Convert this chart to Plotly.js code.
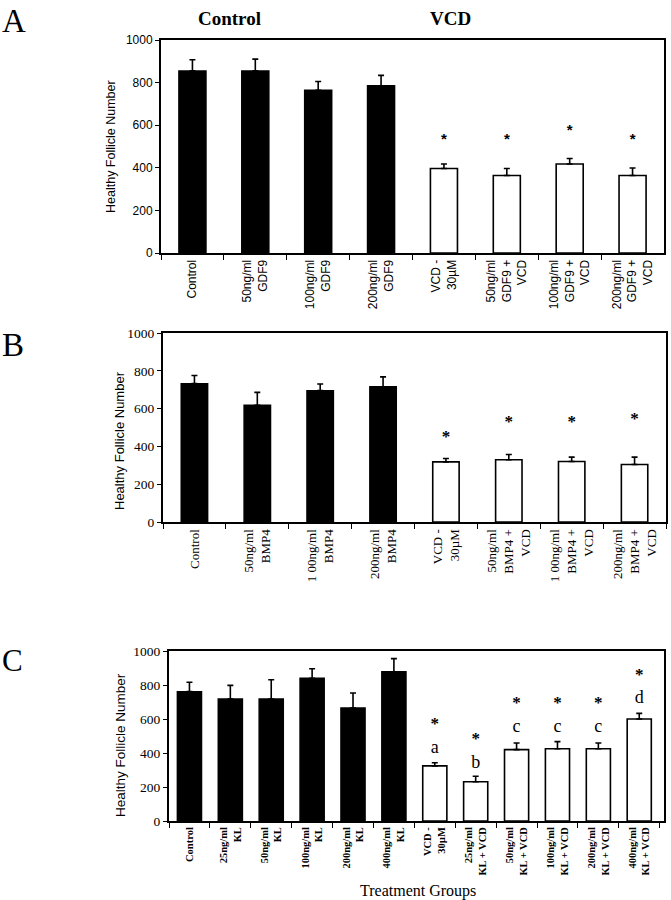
<!DOCTYPE html>
<html>
<head>
<meta charset="utf-8">
<script src="https://cdn.plot.ly/plotly-3.0.1.min.js"></script>
<style>html,body{margin:0;padding:0;background:#fff;}#chart{width:671px;height:900px;}</style>
</head>
<body>
<div id="chart"></div>
<script>
// ---------- Panel A (GDF9) ----------
const catsA = ['Control', '50ng/ml<br>GDF9', '100ng/ml<br>GDF9', '200ng/ml<br>GDF9', 'VCD -<br>30µM', '50ng/ml<br>GDF9 +<br>VCD', '100ng/ml<br>GDF9 +<br>VCD', '200ng/ml<br>GDF9 +<br>VCD'];
const ctrlA = [855, 855, 764, 785];
const ctrlAerr = [52, 55, 41, 49];
const vcdA = [397, 364, 418, 364];
const vcdAerr = [21, 33, 26, 35];
const starA = ['*', '*', '*', '*'];
const starAy = [529, 529, 570, 529];

// ---------- Panel B (BMP4) ----------
const catsB = ['Control', '50ng/ml<br>BMP4', '1 00ng/ml<br>BMP4', '200ng/ml<br>BMP4', 'VCD -<br>30µM', '50ng/ml<br>BMP4 +<br>VCD', '1 00ng/ml<br>BMP4 +<br>VCD', '200ng/ml<br>BMP4 +<br>VCD'];
const ctrlB = [732, 618, 695, 716];
const ctrlBerr = [43, 68, 35, 52];
const vcdB = [318, 329, 320, 304];
const vcdBerr = [18, 28, 23, 39];
const starB = ['*', '*', '*', '*'];
const starBy = [445, 525, 525, 543];

// ---------- Panel C (KL) ----------
const catsC = ['Control', '25ng/ml<br>KL', '50ng/ml<br>KL', '100ng/ml<br>KL', '200ng/ml<br>KL', '400ng/ml<br>KL', 'VCD -<br>30µM', '25ng/ml<br>KL + VCD', '50ng/ml<br>KL + VCD', '100ng/ml<br>KL + VCD', '200ng/ml<br>KL + VCD', '400ng/ml<br>KL + VCD'];
const ctrlC = [761, 718, 718, 839, 665, 878];
const ctrlCerr = [55, 80, 113, 57, 88, 77];
const vcdC = [324, 231, 420, 425, 425, 600];
const vcdCerr = [19, 32, 39, 42, 34, 33];
const starC = ['*', '*', '*', '*', '*', '*'];
const starCy = [565, 476, 690, 690, 690, 853];
const letterC = ['a', 'b', 'c', 'c', 'c', 'd'];
const letterCy = [427, 337, 551, 551, 551, 718];

const W = 671, H = 900;
const px = v => v / W;
const py = v => 1 - v / H;
const zeros = n => new Array(n).fill(0);

function barPair(cats, ctrl, ctrlErr, vcd, vcdErr, xa, ya, bw) {
  const nC = ctrl.length;
  const errStyle = (arr) => ({type: 'data', symmetric: false, array: arr, arrayminus: zeros(arr.length), color: '#000', thickness: 1.6, width: 3});
  return [
    {type: 'bar', x: cats.slice(0, nC), y: ctrl, width: bw, xaxis: xa, yaxis: ya, marker: {color: '#000', line: {color: '#000', width: 1.5}}, error_y: errStyle(ctrlErr), showlegend: false, hoverinfo: 'skip'},
    {type: 'bar', x: cats.slice(nC), y: vcd, width: bw, xaxis: xa, yaxis: ya, marker: {color: '#fff', line: {color: '#000', width: 1.6}}, error_y: errStyle(vcdErr), showlegend: false, hoverinfo: 'skip'}
  ];
}
function textTrace(x, y, t, xa, ya, font) {
  return {type: 'scatter', mode: 'text', x: x, y: y, text: t, xaxis: xa, yaxis: ya, textfont: font, textposition: 'middle center', showlegend: false, hoverinfo: 'skip', cliponaxis: false};
}

const starFont = {family: 'Liberation Sans, Arial, sans-serif', size: 15, color: '#000', weight: 'bold'};
const starSerif = {family: 'Liberation Serif, serif', size: 17, color: '#000', weight: 'bold'};
const data = [
  ...barPair(catsA, ctrlA, ctrlAerr, vcdA, vcdAerr, 'x', 'y', 0.43),
  textTrace(catsA.slice(4), starAy, starA, 'x', 'y', starFont),
  ...barPair(catsB, ctrlB, ctrlBerr, vcdB, vcdBerr, 'x2', 'y2', 0.42),
  textTrace(catsB.slice(4), starBy, starB, 'x2', 'y2', starSerif),
  ...barPair(catsC, ctrlC, ctrlCerr, vcdC, vcdCerr, 'x3', 'y3', 0.59),
  textTrace(catsC.slice(6), starCy, starC, 'x3', 'y3', starSerif),
  textTrace(catsC.slice(6), letterCy, letterC, 'x3', 'y3', {family: 'Liberation Serif, serif', size: 18, color: '#000'})
];

function xAxis(domain, anchor, cats, font) {
  return {domain: domain, anchor: anchor, type: 'category', categoryorder: 'array', categoryarray: cats,
    showline: true, linecolor: '#000', linewidth: 2, mirror: true, ticks: 'outside', tickson: 'boundaries',
    ticklen: 5, tickwidth: 1, tickcolor: '#000', tickangle: -90, tickfont: font, showgrid: false, zeroline: false, fixedrange: true};
}
function yAxis(domain, anchor, font) {
  return {domain: domain, anchor: anchor, range: [0, 1000], dtick: 200, showline: true, linecolor: '#000', linewidth: 2, mirror: true,
    ticks: 'outside', ticklen: 4, tickwidth: 1, tickcolor: '#000', tickfont: font, showgrid: false, zeroline: false, fixedrange: true};
}

const sansTick = {family: 'Liberation Sans, Arial, sans-serif', size: 12, color: '#000'};
const serifTickB = {family: 'Liberation Serif, Times New Roman, serif', size: 13, color: '#000'};
const serifTickC = {family: 'Liberation Serif, Times New Roman, serif', size: 10.5, color: '#000', weight: 'bold'};

const layout = {
  width: W, height: H, margin: {l: 0, r: 0, t: 0, b: 0}, paper_bgcolor: '#fff', plot_bgcolor: '#fff',
  showlegend: false,
  xaxis: xAxis([px(161), px(664)], 'y', catsA, sansTick),
  yaxis: yAxis([py(253), py(40)], 'x', {family: 'Liberation Sans, Arial, sans-serif', size: 12, color: '#000'}),
  xaxis2: xAxis([px(163), px(666)], 'y2', catsB, serifTickB),
  yaxis2: yAxis([py(522), py(333)], 'x2', {family: 'Liberation Serif, Times New Roman, serif', size: 13.5, color: '#000'}),
  xaxis3: xAxis([px(169), px(664)], 'y3', catsC, serifTickC),
  yaxis3: yAxis([py(821), py(651)], 'x3', {family: 'Liberation Serif, Times New Roman, serif', size: 13.5, color: '#000'}),
  annotations: [
    {text: 'A', x: 0, y: py(1), xref: 'paper', yref: 'paper', xanchor: 'left', yanchor: 'top', showarrow: false, font: {family: 'Liberation Serif, serif', size: 33, color: '#000'}},
    {text: 'B', x: 0, y: py(325), xref: 'paper', yref: 'paper', xanchor: 'left', yanchor: 'top', showarrow: false, font: {family: 'Liberation Serif, serif', size: 33, color: '#000'}},
    {text: 'C', x: 0, y: py(641), xref: 'paper', yref: 'paper', xanchor: 'left', yanchor: 'top', showarrow: false, font: {family: 'Liberation Serif, serif', size: 31, color: '#000'}},
    {text: 'Control', x: px(229), y: py(19), xref: 'paper', yref: 'paper', xanchor: 'center', yanchor: 'middle', showarrow: false, font: {family: 'Liberation Serif, serif', size: 19, color: '#000', weight: 'bold'}},
    {text: 'VCD', x: px(450), y: py(19), xref: 'paper', yref: 'paper', xanchor: 'center', yanchor: 'middle', showarrow: false, font: {family: 'Liberation Serif, serif', size: 19, color: '#000', weight: 'bold'}},
    {text: 'Healthy Follicle Number', x: px(111), y: py(146), xref: 'paper', yref: 'paper', xanchor: 'center', yanchor: 'middle', textangle: -90, showarrow: false, font: {family: 'Liberation Sans, Arial, sans-serif', size: 12.5, color: '#000'}},
    {text: 'Healthy Follicle Number', x: px(119), y: py(441), xref: 'paper', yref: 'paper', xanchor: 'center', yanchor: 'middle', textangle: -90, showarrow: false, font: {family: 'Liberation Sans, Arial, sans-serif', size: 13, color: '#000'}},
    {text: 'Healthy Follicle Number', x: px(120), y: py(745), xref: 'paper', yref: 'paper', xanchor: 'center', yanchor: 'middle', textangle: -90, showarrow: false, font: {family: 'Liberation Sans, Arial, sans-serif', size: 13.5, color: '#000'}},
    {text: 'Treatment Groups', x: px(418), y: py(891), xref: 'paper', yref: 'paper', xanchor: 'center', yanchor: 'middle', showarrow: false, font: {family: 'Liberation Serif, serif', size: 16, color: '#000'}}
  ]
};

Plotly.newPlot('chart', data, layout, {staticPlot: true, displayModeBar: false});
</script>
</body>
</html>
